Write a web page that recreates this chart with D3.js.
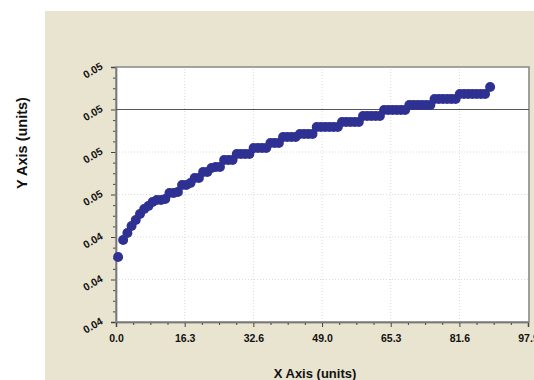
<!DOCTYPE html>
<html>
<head>
  <meta charset="utf-8">
  <title>Y Axis vs X Axis</title>
  <script src="https://d3js.org/d3.v7.min.js"></script>
  <style>
    html, body {
      margin: 0;
      padding: 0;
      background: #fff;
    }
    svg {
      display: block;
      font-family: "Liberation Sans", Arial, sans-serif;
    }
    .tick-label {
      font-size: 10.5px;
      font-weight: bold;
      fill: #111;
    }
    .axis-title {
      font-size: 13px;
      font-weight: bold;
      fill: #111;
    }
  </style>
</head>
<body>
  <svg width="534" height="380"></svg>

  <script>
    // data
    const xValues = [
      0.5, 1.7, 2.7, 3.7, 4.7, 5.7, 6.7, 7.7, 8.7, 9.7,
      10.7, 11.7, 12.7, 13.7, 14.7, 15.7, 16.7, 17.7, 18.7, 19.7,
      20.7, 21.7, 22.7, 23.7, 24.7, 25.7, 26.7, 27.7, 28.7, 29.7,
      30.7, 31.7, 32.7, 33.7, 34.7, 35.7, 36.7, 37.7, 38.7, 39.7,
      40.7, 41.7, 42.7, 43.7, 44.7, 45.7, 46.7, 47.7, 48.7, 49.7,
      50.7, 51.7, 52.7, 53.7, 54.7, 55.7, 56.7, 57.7, 58.7, 59.7,
      60.7, 61.7, 62.7, 63.7, 64.7, 65.7, 66.7, 67.7, 68.7, 69.7,
      70.7, 71.7, 72.7, 73.7, 74.7, 75.7, 76.7, 77.7, 78.7, 79.7,
      80.7, 81.7, 82.7, 83.7, 84.7, 85.7, 86.7, 87.7, 88.9
    ];
    const yValues = [
      0.04430, 0.04464, 0.04478, 0.04492, 0.04504, 0.04516, 0.04526, 0.04532, 0.04540, 0.04544,
      0.04544, 0.04546, 0.04558, 0.04558, 0.04560, 0.04574, 0.04574, 0.04578, 0.04588, 0.04588,
      0.04600, 0.04600, 0.04608, 0.04610, 0.04610, 0.04624, 0.04624, 0.04624, 0.04636, 0.04636,
      0.04636, 0.04636, 0.04648, 0.04648, 0.04648, 0.04648, 0.04658, 0.04658, 0.04658, 0.04670,
      0.04670, 0.04670, 0.04670, 0.04676, 0.04676, 0.04676, 0.04676, 0.04690, 0.04690, 0.04690,
      0.04690, 0.04690, 0.04690, 0.04700, 0.04700, 0.04700, 0.04700, 0.04700, 0.04712, 0.04712,
      0.04712, 0.04712, 0.04712, 0.04724, 0.04724, 0.04724, 0.04724, 0.04724, 0.04724, 0.04734,
      0.04734, 0.04734, 0.04734, 0.04734, 0.04734, 0.04746, 0.04746, 0.04746, 0.04746, 0.04746,
      0.04746, 0.04756, 0.04756, 0.04756, 0.04756, 0.04756, 0.04756, 0.04756, 0.04770
    ];
    const xTicks = [0, 16.32, 32.64, 48.96, 65.28, 81.6, 97.9];
    const yTicks = [0.04300, 0.04385, 0.04470, 0.04555, 0.04640, 0.04725, 0.04810];
    const refLine = 0.04725;

    const data = xValues.map((x, i) => ({ x: x, y: yValues[i] }));

    const svg = d3.select("svg");
    const margin = { left: 116, right: 6, top: 67, bottom: 58 };
    const W = 534, H = 380;

    // beige panel
    svg.append("rect")
      .attr("x", 45).attr("y", 11)
      .attr("width", W - 45).attr("height", H - 11)
      .attr("fill", "#e9e4d0");

    const x = d3.scaleLinear().domain([0, 97.9]).range([margin.left, W - margin.right]);
    const y = d3.scaleLinear().domain([yTicks[0], yTicks[6]]).range([H - margin.bottom, margin.top]);

    // plot area
    svg.append("rect")
      .attr("x", x(0)).attr("y", y(yTicks[6]))
      .attr("width", x(97.9) - x(0)).attr("height", y(yTicks[0]) - y(yTicks[6]))
      .attr("fill", "#fff");

    // faint dotted grid
    const grid = svg.append("g").attr("stroke", "#dcdcdc").attr("stroke-dasharray", "1,2");
    grid.selectAll(".gx").data(xTicks.slice(1, -1)).enter().append("line")
      .attr("x1", d => x(d)).attr("x2", d => x(d))
      .attr("y1", y(yTicks[0])).attr("y2", y(yTicks[6]));
    grid.selectAll(".gy").data(yTicks.slice(1, -1)).enter().append("line")
      .attr("x1", x(0)).attr("x2", x(97.9))
      .attr("y1", d => y(d)).attr("y2", d => y(d));

    // minor ticks (4 subdivisions)
    const xMinor = [];
    for (let i = 0; i < xTicks.length - 1; i++)
      for (let k = 1; k < 4; k++) xMinor.push(xTicks[i] + (xTicks[i + 1] - xTicks[i]) * k / 4);
    const yMinor = [];
    for (let i = 0; i < yTicks.length - 1; i++)
      for (let k = 1; k < 4; k++) yMinor.push(yTicks[i] + (yTicks[i + 1] - yTicks[i]) * k / 4);

    const xAxis = svg.append("g")
      .attr("transform", `translate(0,${y(yTicks[0])})`)
      .call(d3.axisBottom(x).tickValues(xTicks).tickFormat(d3.format(".1f")).tickSize(5).tickPadding(6));
    svg.append("g")
      .attr("transform", `translate(0,${y(yTicks[0])})`)
      .call(d3.axisBottom(x).tickValues(xMinor).tickFormat("").tickSize(3))
      .select(".domain").remove();

    const yAxis = svg.append("g")
      .attr("transform", `translate(${x(0)},0)`)
      .call(d3.axisLeft(y).tickValues(yTicks).tickFormat(d3.format(".2f")).tickSize(5).tickPadding(8));
    svg.append("g")
      .attr("transform", `translate(${x(0)},0)`)
      .call(d3.axisLeft(y).tickValues(yMinor).tickFormat("").tickSize(3))
      .select(".domain").remove();

    svg.selectAll(".domain").attr("stroke", "#444").attr("stroke-width", 1.5);
    svg.selectAll(".tick line").attr("stroke", "#444");

    xAxis.selectAll("text").attr("class", "tick-label").attr("dy", "0.9em");
    yAxis.selectAll("text")
      .attr("class", "tick-label")
      .attr("dy", "0.1em")
      .attr("transform", function () {
        const tx = d3.select(this).attr("x");
        return `rotate(-30, ${tx}, 0)`;
      });

    // right and top frame
    svg.append("rect")
      .attr("x", x(0)).attr("y", y(yTicks[6]))
      .attr("width", x(97.9) - x(0) + 1).attr("height", y(yTicks[0]) - y(yTicks[6]))
      .attr("fill", "none").attr("stroke", "#888").attr("stroke-width", 1.5);

    // reference line
    svg.append("line")
      .attr("x1", x(0)).attr("x2", x(97.9) + 1)
      .attr("y1", y(refLine)).attr("y2", y(refLine))
      .attr("stroke", "#555").attr("stroke-width", 1.2);

    // points
    svg.append("g").selectAll("circle")
      .data(data).enter().append("circle")
      .attr("cx", d => x(d.x))
      .attr("cy", d => y(d.y))
      .attr("r", 5)
      .attr("fill", "#2e3192");

    // axis titles
    svg.append("text")
      .attr("class", "axis-title")
      .attr("x", 315).attr("y", 378)
      .attr("text-anchor", "middle")
      .text("X Axis (units)");
    svg.append("text")
      .attr("class", "axis-title")
      .style("font-size", "14.5px")
      .attr("transform", "translate(27,143) rotate(-90)")
      .attr("text-anchor", "middle")
      .text("Y Axis (units)");
  </script>
</body>
</html>
